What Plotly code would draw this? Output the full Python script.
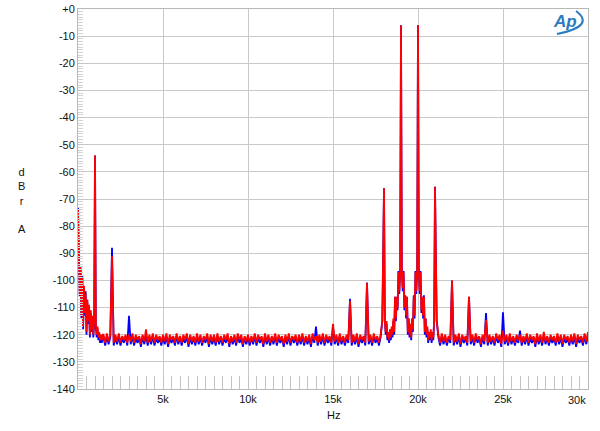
"""FFT spectrum chart (twin-tone 19k + 20k IMD), Audio Precision style"""
import plotly.graph_objects as go

# 周波数セグメント (start Hz, bin width Hz)
LF_START, LF_STEP = 0, 50        # 0 .. 1450
MID_START, MID_STEP = 1500, 100  # 1500 .. 17900
IMD_START, IMD_STEP = 18000, 50  # 18000 .. 20950
HI_START, HI_STEP = 21000, 100   # 21000 .. 30000

# dBrA values, red channel
red_lf = [
    -74, -90, -105, -95, -113, -99, -117, -102, -112, -105,
    -119, -107, -115, -109, -120, -111, -118, -113, -120, -115,
    -54, -116, -120, -117, -121, -119, -122, -120, -122, -120,
]
red_mid = [
    -120, -123, -119.5, -122.5, -120,                                          # 1.5k
    -91, -123, -120, -122.5, -119.5, -123, -120.5, -122, -120, -123,           # 2k
    -120, -122.5, -119.5, -123, -120, -122, -120.5, -123.5, -120, -122.5,      # 3k
    -118, -123, -120, -122.5, -119.5, -123, -120, -122, -120.5, -123,          # 4k
    -120, -122.5, -119.5, -123.5, -120, -122, -120.5, -123, -119.5, -122.5,    # 5k
    -120.5, -123, -120, -122, -119.5, -123.5, -120, -122.5, -120.5, -123,      # 6k
    -119.5, -122.5, -120, -123, -120.5, -122, -119.5, -123.5, -120, -122.5,    # 7k
    -120, -123, -119.5, -122.5, -120.5, -123, -120, -122, -119.5, -123.5,      # 8k
    -120.5, -122.5, -120, -123, -119.5, -122, -120, -123.5, -120.5, -122.5,    # 9k
    -120, -123, -120.5, -122.5, -119.5, -123, -120, -122, -120.5, -123.5,      # 10k
    -119.5, -122.5, -120, -123, -120.5, -122.5, -119.5, -123, -120, -122,      # 11k
    -120.5, -123.5, -120, -122.5, -119.5, -123, -120.5, -122, -120, -123,      # 12k
    -120, -122.5, -119.5, -123, -120.5, -122.5, -120, -123.5, -119.5, -122,    # 13k
    -120.5, -123, -120, -122.5, -119.5, -123, -120, -122, -120.5, -123,        # 14k
    -116, -122.5, -120, -123, -119.5, -122.5, -120.5, -123, -120, -122,        # 15k
    -107.5, -123, -120, -122.5, -119.5, -123.5, -120, -122, -120.5, -123,      # 16k
    -101, -122.5, -120, -123, -119.5, -122, -120.5, -123, -120, -115,          # 17k
]
red_imd = [
    -66, -115, -119, -115, -121, -119, -122, -118, -121, -117,                 # 18.0k
    -120, -114, -119, -106, -114, -106, -110, -97, -104, -97,                  # 18.5k
    -6, -97, -103, -97, -110, -106, -113, -106, -119, -114,                    # 19.0k
    -120, -116, -121, -114, -118, -106, -113, -97, -104, -97,                  # 19.5k
    -6, -97, -104, -97, -111, -106, -113, -106, -119, -114,                    # 20.0k
    -120, -117, -122, -119, -121, -118, -122, -119, -121, -115,                # 20.5k
]
red_hi = [
    -65.5, -115, -120, -123, -119.5, -122.5, -120, -123, -120.5, -122,         # 21k
    -100, -123, -120, -122.5, -119.5, -123.5, -120, -122, -120.5, -123,        # 22k
    -106, -122.5, -120, -123, -119.5, -122, -120.5, -123.5, -120, -122.5,      # 23k
    -114.5, -123, -120, -122.5, -120.5, -123, -119.5, -122, -120, -123.5,      # 24k
    -118.5, -122.5, -120, -123, -119.5, -122.5, -120.5, -123, -120, -122,      # 25k
    -120, -123, -120.5, -122.5, -119.5, -123, -120, -122, -120.5, -123.5,      # 26k
    -119.5, -122.5, -120, -123, -119, -122.5, -120.5, -123, -120, -122,        # 27k
    -120.5, -123, -119.5, -122.5, -120, -123.5, -120, -122, -120.5, -123,      # 28k
    -120, -122.5, -119.5, -123.5, -120, -122, -120.5, -123, -119.5, -122.5,    # 29k
    -119,                                                                      # 30k
]

# blue channel
blue_lf = [
    -73, -89, -106, -96, -114, -98, -118, -103, -113, -104,
    -120, -108, -116, -110, -121, -112, -119, -114, -121, -116,
    -54, -117, -121, -118, -122, -120, -123, -121, -123, -121,
]
blue_mid = [
    -121, -124, -120.5, -123.5, -121,                                          # 1.5k
    -88, -124, -121, -123.5, -120.5, -124, -121, -123, -120.5, -124,           # 2k
    -113, -123.5, -120.5, -124, -121, -123, -121, -124.5, -120.5, -123.5,      # 3k
    -120, -124, -121, -123.5, -120.5, -124, -121, -123, -121, -124,            # 4k
    -121, -123.5, -120.5, -124.5, -121, -123, -121, -124, -120.5, -123.5,      # 5k
    -121, -124, -121, -123, -120.5, -124.5, -121, -123.5, -121, -124,          # 6k
    -120.5, -123.5, -121, -124, -121, -123, -120.5, -124.5, -121, -123.5,      # 7k
    -121, -124, -120.5, -123.5, -121, -124, -121, -123, -120.5, -124.5,        # 8k
    -121, -123.5, -121, -124, -120.5, -123, -121, -124.5, -121, -123.5,        # 9k
    -121, -124, -121, -123.5, -120.5, -124, -121, -123, -121, -124.5,          # 10k
    -120.5, -123.5, -121, -124, -121, -123.5, -120.5, -124, -121, -123,        # 11k
    -121, -124.5, -121, -123.5, -120.5, -124, -121, -123, -121, -124,          # 12k
    -121, -123.5, -120.5, -124, -121, -123.5, -121, -124.5, -120.5, -123,      # 13k
    -117, -124, -121, -123.5, -120.5, -124, -121, -123, -121, -124,            # 14k
    -117, -123.5, -121, -124, -120.5, -123.5, -121, -124, -121, -123,          # 15k
    -106.8, -124, -121, -123.5, -120.5, -124.5, -121, -123, -121, -124,        # 16k
    -100.8, -123.5, -121, -124, -120.5, -123, -121, -124, -121, -115,          # 17k
]
blue_imd = [
    -66, -115, -120, -116, -122, -120, -123, -119, -122, -118,                 # 18.0k
    -121, -115, -120, -106, -115, -106, -111, -96.5, -105, -96.5,              # 18.5k
    -6, -96.5, -104, -96.5, -111, -105.5, -114, -106, -120, -114,              # 19.0k
    -121, -117, -122, -114, -119, -105.5, -114, -96.5, -105, -96.5,            # 19.5k
    -6, -96.5, -105, -96.5, -112, -106, -114, -105.5, -120, -114,              # 20.0k
    -121, -118, -123, -120, -122, -119, -123, -120, -122, -115,                # 20.5k
]
blue_hi = [
    -65.5, -115, -121, -124, -120.5, -123.5, -121, -124, -121, -123,           # 21k
    -100, -124, -121, -123.5, -120.5, -124.5, -121, -123, -121, -124,          # 22k
    -106, -123.5, -121, -124, -120.5, -123, -121, -124.5, -121, -123.5,        # 23k
    -112, -124, -121, -123.5, -121, -124, -120.5, -123, -121, -124.5,          # 24k
    -111.7, -123.5, -121, -124, -120.5, -123.5, -121, -124, -121, -123,        # 25k
    -118.5, -124, -121, -123.5, -120.5, -124, -121, -123, -121, -124.5,        # 26k
    -120.5, -123.5, -121, -124, -120, -123.5, -121, -124, -121, -123,          # 27k
    -121, -124, -120.5, -123.5, -121, -124.5, -121, -123, -121, -124,          # 28k
    -121, -123.5, -120.5, -124.5, -121, -123, -121, -124, -120.5, -123.5,      # 29k
    -120,                                                                      # 30k
]

x_tick_vals = [5000, 10000, 15000, 20000, 25000]
x_tick_text = ["5k", "10k", "15k", "20k", "25k"]
y_tick_vals = [0, -10, -20, -30, -40, -50, -60, -70, -80, -90, -100, -110, -120, -130, -140]
y_tick_text = ["+0"] + [str(v) for v in y_tick_vals[1:]]


def bins(start, step, values):
    """各ビンの周波数"""
    return [start + i * step for i in range(len(values))]


freq = (bins(LF_START, LF_STEP, red_lf) + bins(MID_START, MID_STEP, red_mid)
        + bins(IMD_START, IMD_STEP, red_imd) + bins(HI_START, HI_STEP, red_hi))
red = red_lf + red_mid + red_imd + red_hi
blue = blue_lf + blue_mid + blue_imd + blue_hi

FONT = "Liberation Sans, Arial, sans-serif"
GRID = "#c9c9c9"
AP_BLUE = "#2b7bbf"

fig = go.Figure()
fig.add_trace(go.Scatter(x=freq, y=blue, mode="lines",
                         line=dict(color="#0000ff", width=1.8), name="blue"))
fig.add_trace(go.Scatter(x=freq, y=red, mode="lines",
                         line=dict(color="#ff0000", width=1.8), name="red"))

fig.update_layout(
    width=600, height=431,
    margin=dict(l=78, r=12, t=9, b=42),
    paper_bgcolor="white", plot_bgcolor="white",
    showlegend=False,
    font=dict(family=FONT, size=11, color="#111111"),
    xaxis=dict(
        range=[0, 30000], tickvals=x_tick_vals, ticktext=x_tick_text,
        automargin=False,
        showgrid=True, gridcolor=GRID, gridwidth=1, zeroline=False,
        showline=True, linecolor="#b8b8b8", linewidth=1, mirror=True,
        ticks="inside", ticklen=13, tickcolor="#c4c4c4",
        minor=dict(dtick=500, tick0=0, ticks="inside", ticklen=13,
                   tickcolor="#c4c4c4", showgrid=False),
    ),
    yaxis=dict(
        range=[-140, 0], tickvals=y_tick_vals, ticktext=y_tick_text,
        automargin=False,
        showgrid=True, gridcolor=GRID, gridwidth=1, zeroline=False,
        showline=True, linecolor="#b8b8b8", linewidth=1, mirror=True,
        ticks="inside", ticklen=5, tickcolor="#c4c4c4",
        minor=dict(dtick=1, tick0=0, ticks="inside", ticklen=5,
                   tickcolor="#d4d4d4", showgrid=False),
    ),
)

# 軸ラベル
fig.add_annotation(text="d<br>B<br>r<br><br>A", xref="paper", yref="paper",
                   x=-0.11, y=0.497, xanchor="center", yanchor="middle",
                   showarrow=False, font=dict(size=11))
fig.add_annotation(text="Hz", xref="paper", yref="paper",
                   x=0.5, y=-0.068, xanchor="center", yanchor="middle",
                   showarrow=False, font=dict(size=11))
fig.add_annotation(text="30k", xref="paper", yref="paper", x=1.0, y=-0.029,
                   xanchor="right", yanchor="middle", showarrow=False,
                   font=dict(size=11))

# AP ロゴ
fig.add_annotation(text="<i><b>Ap</b></i>", xref="paper", yref="paper",
                   x=0.954, y=0.966, xanchor="center", yanchor="middle",
                   showarrow=False, font=dict(size=17, color=AP_BLUE))
fig.add_shape(type="path", xref="paper", yref="paper",
              path="M 0.9765,0.9947 Q 1.0157,0.9553 0.9392,0.9342",
              line=dict(color=AP_BLUE, width=2))

# ページ余白を消す (body の既定 8px)
fig.write_html("out.html", config={"displayModeBar": False},
               post_script="document.body.style.margin='0';")
